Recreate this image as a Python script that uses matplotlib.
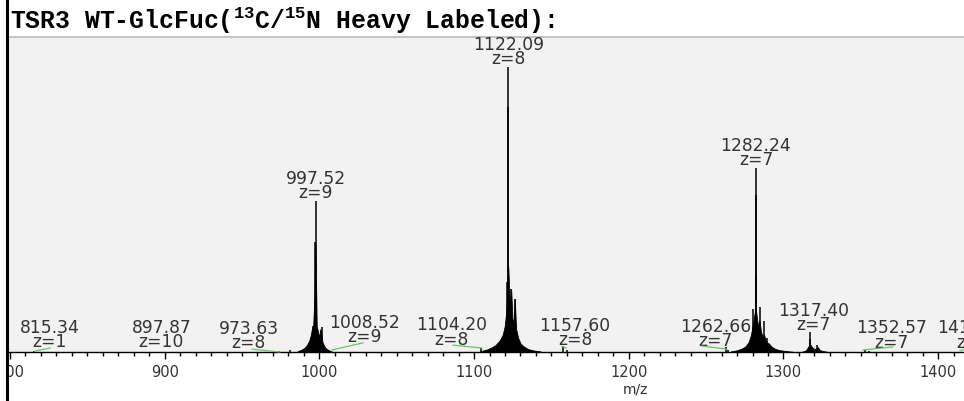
import matplotlib
matplotlib.use("Agg")
import matplotlib.pyplot as plt
from matplotlib.ticker import MultipleLocator
from matplotlib.lines import Line2D
from matplotlib.patches import Rectangle

# ---------------- data ----------------
title_text = "TSR3 WT-GlcFuc($^{13}$C/$^{15}$N Heavy Labeled):"

# labelled main peaks
major_mz = [997.52, 1122.09, 1282.24]
major_int = [53.0, 100.0, 64.5]
major_z = [9, 8, 7]

# centroid sticks (m/z, relative intensity %)
stick_mz = [997.40, 997.65, 995.90, 1001.50,
            1121.96, 1121.60, 1123.90, 1126.30,
            1282.10, 1281.95, 1280.60, 1284.60, 1287.30, 1289.60,
            1317.40, 1317.10, 1321.90, 1319.00,
            815.30, 973.60, 981.00, 1104.20, 1108.50, 1157.60, 1160.00,
            1262.70, 1264.00, 1352.60, 1355.00]
stick_int = [38.5, 19.0, 9.0, 8.8,
             86.0, 24.5, 22.0, 18.6,
             55.0, 27.0, 15.0, 15.8, 11.0, 5.0,
             6.9, 4.5, 2.3, 1.5,
             0.3, 0.5, 0.6, 1.5, 0.8, 2.2, 0.6,
             1.8, 0.8, 0.7, 0.4]

# profile envelopes of the isotope clusters
profA_mz = [986.0, 988.5, 990.5, 992.0, 993.5, 994.5, 995.3, 996.0, 996.8, 997.5,
            998.3, 999.0, 999.8, 1000.6, 1001.3, 1002.0, 1002.8, 1003.8, 1005.0, 1006.5, 1008.0]
profA_int = [0.3, 0.8, 1.5, 2.5, 4.0, 6.0, 8.5, 9.0, 19.0, 38.0,
             9.0, 7.5, 5.0, 8.0, 6.5, 3.5, 2.5, 1.5, 1.0, 0.5, 0.2]
profB_mz = [1104.0, 1108.0, 1111.0, 1114.0, 1116.5, 1118.5, 1119.8, 1120.8, 1121.5, 1122.1,
            1122.8, 1123.4, 1124.0, 1124.8, 1125.6, 1126.3, 1127.2, 1128.5, 1130.0, 1132.0,
            1135.0, 1139.0, 1143.0]
profB_int = [0.3, 0.8, 1.5, 2.5, 4.0, 6.0, 9.0, 14.0, 24.0, 30.0,
             21.0, 15.0, 22.0, 12.0, 10.0, 18.6, 8.0, 5.0, 3.0, 2.0,
             1.0, 0.5, 0.2]
profC_mz = [1266.0, 1270.0, 1273.0, 1275.5, 1277.5, 1279.0, 1280.3, 1281.2, 1282.0, 1282.8,
            1283.6, 1284.5, 1285.5, 1286.5, 1287.5, 1288.8, 1290.5, 1292.5, 1295.0, 1298.0,
            1302.0, 1306.0]
profC_int = [0.2, 0.6, 1.2, 2.0, 3.5, 6.0, 10.0, 13.0, 16.0, 12.0,
             9.0, 11.0, 7.0, 5.5, 6.0, 3.5, 3.0, 1.8, 1.0, 0.6,
             0.3, 0.1]
profD_mz = [1312.0, 1314.5, 1316.0, 1317.0, 1318.2, 1319.5, 1321.0, 1322.0, 1323.5, 1325.0, 1328.0]
profD_int = [0.1, 0.6, 1.8, 3.0, 1.8, 1.2, 1.0, 1.8, 0.7, 0.4, 0.1]

# minor annotated features
small_mz = [815.34, 897.87, 973.63, 1008.52, 1104.20, 1157.60, 1262.66, 1317.40, 1352.57, 1414.13]
small_z = [1, 10, 8, 9, 8, 8, 7, 7, 7, 7]
small_text_y = [8.8, 8.8, 8.5, 10.5, 9.8, 9.8, 9.5, 14.7, 8.8, 8.8]
small_z_y = [3.9, 3.9, 3.5, 5.6, 4.6, 4.2, 3.9, 9.8, 3.5, 3.5]

# isotope-fit envelope segments (green)
env_start = [816.0, 956.4, 1008.1, 1086.4, 1156.8, 1247.3, 1351.4, 1414.1]
env_end = [826.0, 974.5, 1028.2, 1105.1, 1159.4, 1263.5, 1370.8, 1418.0]
env_y0 = [0.3, 1.0, 0.7, 2.4, 2.0, 2.1, 0.7, 0.5]
env_y1 = [1.4, 0.0, 3.2, 1.4, 1.4, 1.0, 1.8, 1.0]

# ---------------- layout ----------------
W, H = 964, 402
small_dx_px = [16, 0, -30, 32, -29, 12, -10, 3, 27, 13]

plt.rcParams['mathtext.fontset'] = 'custom'
plt.rcParams['mathtext.rm'] = 'Liberation Mono:bold'
plt.rcParams['mathtext.it'] = 'Liberation Mono:bold'
plt.rcParams['mathtext.bf'] = 'Liberation Mono:bold'

fig = plt.figure(figsize=(W / 100, H / 100), dpi=100)
fig.patch.set_facecolor('white')

ax = fig.add_axes([7 / W, (H - 353) / H, 1 - 7 / W, (353 - 38) / H])
ax.set_facecolor('#f2f2f2')
ax.set_xlim(798.1, 1416.7)
ax.set_ylim(0, 110.5)

for s in ['left', 'right']:
    ax.spines[s].set_visible(False)
ax.spines['top'].set_color('#c4c4c4')
ax.spines['top'].set_linewidth(1.5)
ax.spines['bottom'].set_color('black')
ax.spines['bottom'].set_linewidth(1.0)

ax.set_yticks([])
ax.xaxis.set_major_locator(MultipleLocator(100))
ax.xaxis.set_minor_locator(MultipleLocator(10))
ax.tick_params(axis='x', which='major', length=5, width=1, color='black',
               labelsize=10.5, labelcolor='#333333', pad=4)
ax.tick_params(axis='x', which='minor', length=3, width=1, color='black')
for lab in ax.get_xticklabels():
    lab.set_family('DejaVu Sans')

# profiles
for pm, pi in [(profA_mz, profA_int), (profB_mz, profB_int),
               (profC_mz, profC_int), (profD_mz, profD_int)]:
    ax.fill_between(pm, 0, pi, color='black', linewidth=0.6, edgecolor='black', zorder=2)

# sticks
ax.vlines(stick_mz, 0, stick_int, color='black', linewidth=1.1, zorder=3)
ax.vlines(major_mz, 0, major_int, color='black', linewidth=1.1, zorder=3)

# green envelope segments
for xs, xe, y0, y1 in zip(env_start, env_end, env_y0, env_y1):
    ax.plot([xs, xe], [y0, y1], color='#6cc26c', linewidth=0.9, zorder=4, clip_on=False)

lab_font = dict(family='DejaVu Sans', fontsize=12.3, color='#333333', ha='center',
                va='center', multialignment='center', linespacing=0.72)

# major labels (two lines: m/z and charge)
for mz, it, z in zip(major_mz, major_int, major_z):
    ax.annotate(f"{mz:.2f}\nz={z}", (mz, it), xytext=(0, 16 * 0.72), textcoords='offset points',
                annotation_clip=False, **lab_font)

# minor labels
for mz, z, ty, zy, dx in zip(small_mz, small_z, small_text_y, small_z_y, small_dx_px):
    ax.annotate(f"{mz:.2f}\nz={z}", (mz, (ty + zy) / 2), xytext=(dx * 0.72, 0),
                textcoords='offset points', annotation_clip=False, **lab_font)

# x label
fig.text(636 / W, (H - 390) / H, "m/z", ha='center', va='center',
         family='DejaVu Sans', fontsize=10, color='#333333')

# title
fig.text(10 / W, (H - 21) / H, title_text, ha='left', va='center',
         family=['Liberation Mono', 'DejaVu Sans Mono'], fontweight='bold',
         fontsize=17.8, color='black')

# white margin and left black frame line
fig.add_artist(Rectangle((0, 0), 5 / W, 1, transform=fig.transFigure,
                         facecolor='white', edgecolor='none', zorder=10))
fig.add_artist(Line2D([6.5 / W, 6.5 / W], [0, 1], transform=fig.transFigure,
                      color='black', linewidth=2.2, zorder=11))

fig.savefig("out.png", dpi=100, facecolor='white')
